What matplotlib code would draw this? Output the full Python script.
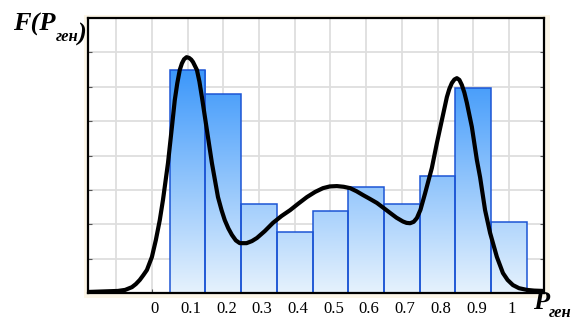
"""Histogram of P_gen with a smoothed density curve on top."""
import numpy as np
import matplotlib
matplotlib.use("Agg")
import matplotlib.pyplot as plt
from matplotlib.colors import LinearSegmentedColormap
from matplotlib.patches import Rectangle
import matplotlib.transforms as mtransforms

# histogram bins (centres) and heights
bin_centers = [0.1, 0.2, 0.3, 0.4, 0.5, 0.6, 0.7, 0.8, 0.9, 1.0]
bin_heights = [6.49, 5.79, 2.58, 1.77, 2.39, 3.09, 2.58, 3.40, 5.97, 2.07]
BIN_WIDTH = 0.1

# density curve
curve_x = [-0.179, -0.095, -0.075, -0.056, -0.045, -0.034, -0.024, -0.014,
           0.0, 0.011, 0.022, 0.031, 0.045, 0.056, 0.064, 0.071, 0.078,
           0.084, 0.090, 0.097, 0.104, 0.110, 0.115, 0.126, 0.133, 0.140,
           0.154, 0.168, 0.185, 0.195, 0.204, 0.214, 0.224, 0.235, 0.246,
           0.265, 0.280, 0.294, 0.316, 0.339, 0.363, 0.387, 0.410, 0.434,
           0.457, 0.479, 0.498, 0.518, 0.537, 0.555, 0.573, 0.591, 0.610,
           0.630, 0.648, 0.667, 0.685, 0.703, 0.713, 0.723, 0.733, 0.742,
           0.752, 0.765, 0.784, 0.798, 0.812, 0.826, 0.833, 0.840, 0.847,
           0.854, 0.861, 0.868, 0.875, 0.882, 0.896, 0.910, 0.919, 0.933,
           0.947, 0.966, 0.983, 0.996, 1.011, 1.028, 1.050, 1.070, 1.095]
curve_y = [0.03, 0.06, 0.09, 0.17, 0.26, 0.38, 0.52, 0.67,
           1.05, 1.54, 2.12, 2.71, 3.78, 4.83, 5.61, 6.10, 6.49,
           6.68, 6.80, 6.86, 6.84, 6.79, 6.72, 6.49, 6.15, 5.70,
           4.74, 3.78, 2.79, 2.41, 2.12, 1.88, 1.69, 1.53, 1.45,
           1.45, 1.51, 1.60, 1.80, 2.04, 2.24, 2.41, 2.60, 2.79,
           2.94, 3.05, 3.10, 3.11, 3.09, 3.05, 2.96, 2.85, 2.74,
           2.62, 2.48, 2.33, 2.19, 2.08, 2.04, 2.03, 2.07, 2.18,
           2.42, 2.90, 3.64, 4.36, 5.03, 5.70, 5.94, 6.11, 6.21,
           6.25, 6.20, 6.05, 5.83, 5.53, 4.83, 3.87, 3.37, 2.41,
           1.75, 1.05, 0.58, 0.38, 0.23, 0.14, 0.09, 0.07, 0.06]

x_ticks = [0, 0.1, 0.2, 0.3, 0.4, 0.5, 0.6, 0.7, 0.8, 0.9, 1.0]
x_tick_labels = ["0", "0.1", "0.2", "0.3", "0.4", "0.5", "0.6", "0.7", "0.8", "0.9", "1"]
x_grid = [-0.1] + x_ticks
y_grid = [1, 2, 3, 4, 5, 6, 7]

XLIM = (-0.179, 1.098)
YLIM = (0, 8)

W, H = 578, 320
fig = plt.figure(figsize=(W / 100, H / 100), dpi=100)
fig.patch.set_facecolor("white")

# thin cream frame behind the plot area
fig.patches.append(Rectangle((84 / W, 1 - 298 / H), (550 - 84) / W, (298 - 15) / H,
                             transform=fig.transFigure, facecolor="#fcf6e8",
                             edgecolor="none", zorder=-5))

ax = fig.add_axes([88 / W, 1 - 293 / H, (544 - 88) / W, (293 - 18) / H])
ax.set_zorder(1)
ax.set_xlim(*XLIM)
ax.set_ylim(*YLIM)

for gx in x_grid:
    ax.axvline(gx, color="#dedede", lw=1.3, zorder=0.5)
for gy in y_grid:
    ax.axhline(gy, color="#dedede", lw=1.3, zorder=0.5)

# bars with a vertical gradient tied to the axis height
cmap = LinearSegmentedColormap.from_list("bluegrad", ["#e6f2fd", "#1482fa"])
grad = np.linspace(0, 1, 256).reshape(-1, 1)
for xc, h in zip(bin_centers, bin_heights):
    x0 = xc - BIN_WIDTH / 2
    rect = Rectangle((x0, 0), BIN_WIDTH, h, facecolor="none",
                     edgecolor="#1c55d4", lw=1.1, zorder=3)
    ax.add_patch(rect)
    im = ax.imshow(grad, cmap=cmap, origin="lower", aspect="auto",
                   extent=(x0, x0 + BIN_WIDTH, YLIM[0], YLIM[1]), zorder=2,
                   interpolation="bilinear")
    im.set_clip_path(rect)
ax.set_xlim(*XLIM)
ax.set_ylim(*YLIM)

ax.plot(curve_x, curve_y, color="black", lw=3.0, solid_capstyle="round",
        solid_joinstyle="round", zorder=4)

for s in ax.spines.values():
    s.set_color("black")
    s.set_linewidth(1.6)
    s.set_zorder(5)

ax.set_xticks(x_ticks)
ax.set_xticklabels(x_tick_labels, fontfamily="Liberation Serif", fontsize=12)
ax.set_yticks(y_grid)
ax.set_yticklabels([])
ax.tick_params(axis="both", direction="in", length=3, width=0.8, color="#555555",
               right=True, pad=6)
offset = mtransforms.ScaledTranslation(3 / 100, 0, fig.dpi_scale_trans)
for lab in ax.get_xticklabels():
    lab.set_transform(lab.get_transform() + offset)

# axis titles: F(P_ген) and P_ген
lbl = dict(fontfamily="Liberation Serif", fontweight="bold", fontstyle="italic")
t1 = fig.text(13 / W, 1 - 31 / H, "F(P", fontsize=19, va="baseline", ha="left", **lbl)
sub1 = ax.annotate("ген", xy=(1, 0), xycoords=t1, xytext=(0, -3),
                   textcoords="offset points", va="baseline", ha="left", fontsize=12,
                   annotation_clip=False, **lbl)
ax.annotate(")", xy=(1, 0), xycoords=sub1, xytext=(0, 3), textcoords="offset points",
            va="baseline", ha="left", fontsize=19, annotation_clip=False, **lbl)

t3 = fig.text(533 / W, 1 - 309 / H, "P", fontsize=19, va="baseline", ha="left", **lbl)
ax.annotate("ген", xy=(1, 0), xycoords=t3, xytext=(0, -2),
            textcoords="offset points", va="baseline", ha="left", fontsize=12,
            annotation_clip=False, **lbl)

fig.savefig("out.png", dpi=100)
